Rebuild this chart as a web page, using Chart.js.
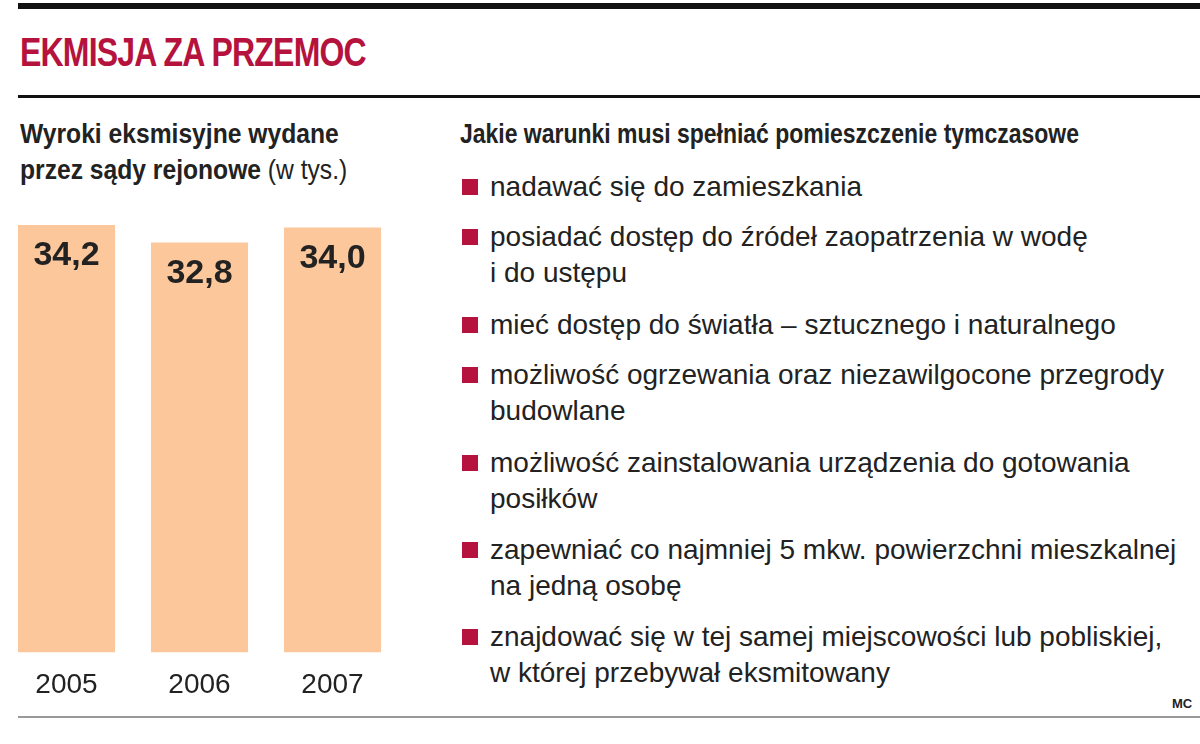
<!DOCTYPE html>
<html><head><meta charset="utf-8">
<script src="https://cdn.jsdelivr.net/npm/chart.js@4"></script>
<style>
body{margin:0;width:1200px;height:744px;background:#fff;position:relative;overflow:hidden;font-family:"Liberation Sans",Arial,sans-serif;color:#222}
.abs{position:absolute}
#t{left:20px;top:30px;font-size:40px;font-weight:bold;color:#b5123d;letter-spacing:-1px;transform:scaleX(0.8);transform-origin:0 0;white-space:nowrap}
.h{font-size:28px;font-weight:bold;line-height:36px;white-space:nowrap;transform:scaleX(0.88);transform-origin:0 0}
.it{left:462px;font-size:28px;line-height:36px;white-space:nowrap}
.it:before{content:"";position:absolute;left:0;top:10px;width:16px;height:16px;background:#b5123d}
.it span{display:block;padding-left:28px}
</style></head><body>
<div class="abs" style="left:18px;top:3px;width:1182px;height:6px;background:#111"></div>
<div id="t" class="abs">EKMISJA ZA PRZEMOC</div>
<div class="abs" style="left:18px;top:95px;width:1182px;height:3px;background:#111"></div>
<div class="abs h" style="left:20px;top:116px">Wyroki eksmisyjne wydane<br>przez sądy rejonowe <span style="font-weight:normal">(w tys.)</span></div>
<div class="abs h" style="left:460px;top:116px;transform:scaleX(0.82)">Jakie warunki musi spełniać pomieszczenie tymczasowe</div>
<div id="list"></div>
<div class="abs" style="left:18px;top:716px;width:1182px;height:2px;background:#999"></div>
<div class="abs" style="left:1172px;top:696px;font-size:13px;font-weight:bold">MC</div>
<div class="abs" style="left:0;top:200px;width:400px;height:510px"><canvas id="c" width="400" height="510"></canvas></div>
<script>
const years=["2005","2006","2007"];
const values=[34.2,32.8,34.0];
const labels=["34,2","32,8","34,0"];
const items=[["nadawać się do zamieszkania"],["posiadać dostęp do źródeł zaopatrzenia w wodę","i do ustępu"],["mieć dostęp do światła – sztucznego i naturalnego"],["możliwość ogrzewania oraz niezawilgocone przegrody","budowlane"],["możliwość zainstalowania urządzenia do gotowania","posiłków"],["zapewniać co najmniej 5 mkw. powierzchni mieszkalnej","na jedną osobę"],["znajdować się w tej samej miejscowości lub pobliskiej,","w której przebywał eksmitowany"]];
const tops=[169,219,307,357,445,532,619];
const L=document.getElementById('list');
items.forEach((a,i)=>{const d=document.createElement('div');d.className='abs it';d.style.top=tops[i]+'px';d.innerHTML=a.map(s=>'<span>'+s+'</span>').join('');L.appendChild(d);});
const vl={id:'vl',afterDatasetsDraw(ch){const c=ch.ctx;c.save();c.font='bold 34px "Liberation Sans",Arial';c.fillStyle='#222';c.textAlign='center';c.textBaseline='top';ch.getDatasetMeta(0).data.forEach((b,i)=>c.fillText(labels[i],b.x,b.y+14));c.restore();}};
new Chart(document.getElementById('c'),{type:'bar',data:{labels:years,datasets:[{data:values,backgroundColor:'#fcc79a',barPercentage:0.73,categoryPercentage:1}]},
options:{responsive:false,animation:false,layout:{padding:{top:25,left:0,right:1,bottom:0}},plugins:{legend:{display:false},tooltip:{enabled:false}},
scales:{y:{display:false,min:0,max:34.2},x:{grid:{display:false},border:{display:false},ticks:{color:'#222',padding:8,font:{size:28,family:'"Liberation Sans",Arial'}}}}},plugins:[vl]});
</script></body></html>
